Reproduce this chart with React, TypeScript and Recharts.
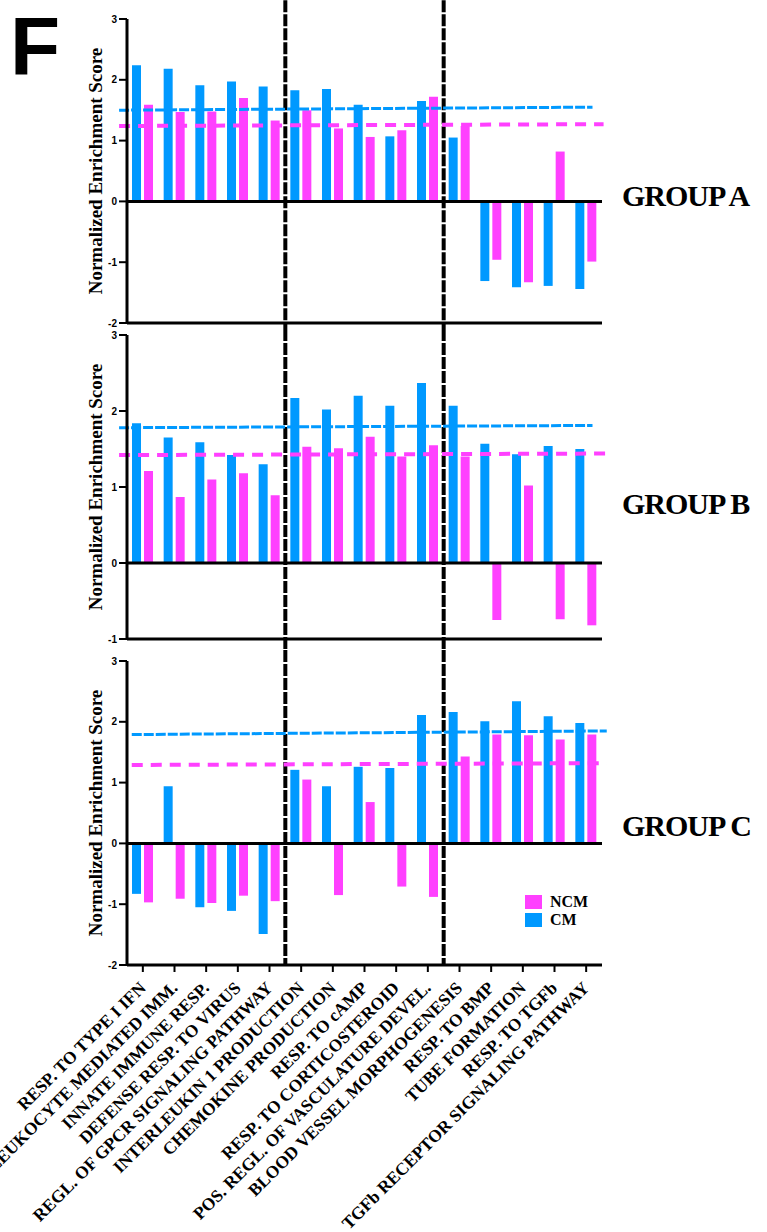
import { BarChart, Bar, XAxis, YAxis, ReferenceLine, Legend, Label } from 'recharts'

const BLUE = '#0099ff'
const PINK = '#ff40ff'
const SERIF = '"Liberation Serif", "Times New Roman", serif'
const SANS = '"Liberation Sans", Arial, sans-serif'

const categories = [
  'RESP. TO TYPE I IFN',
  'LEUKOCYTE MEDIATED IMM.',
  'INNATE IMMUNE RESP.',
  'DEFENSE RESP. TO VIRUS',
  'REGL. OF GPCR SIGNALING PATHWAY',
  'INTERLEUKIN 1 PRODUCTION',
  'CHEMOKINE PRODUCTION',
  'RESP. TO cAMP',
  'RESP. TO CORTICOSTEROID',
  'POS. REGL. OF VASCULATURE DEVEL.',
  'BLOOD VESSEL MORPHOGENESIS',
  'RESP. TO BMP',
  'TUBE FORMATION',
  'RESP. TO TGFb',
  'TGFb RECEPTOR SIGNALING PATHWAY',
]

// group A
const cmA = [2.24, 2.18, 1.91, 1.97, 1.89, 1.83, 1.85, 1.59, 1.07, 1.65, 1.05, -1.31, -1.41, -1.39, -1.44]
const ncmA = [1.59, 1.47, 1.48, 1.7, 1.33, 1.5, 1.2, 1.06, 1.17, 1.72, 1.24, -0.96, -1.33, 0.82, -0.99]
// group B
const cmB = [1.84, 1.65, 1.59, 1.42, 1.3, 2.17, 2.02, 2.2, 2.07, 2.37, 2.07, 1.57, 1.43, 1.54, 1.5]
const ncmB = [1.21, 0.87, 1.1, 1.18, 0.89, 1.53, 1.51, 1.66, 1.4, 1.55, 1.4, -0.75, 1.02, -0.74, -0.82]
// group C
const cmC = [-0.83, 0.94, -1.05, -1.11, -1.49, 1.21, 0.94, 1.26, 1.24, 2.11, 2.16, 2.01, 2.34, 2.09, 1.98]
const ncmC = [-0.97, -0.91, -0.98, -0.86, -0.95, 1.05, -0.85, 0.68, -0.71, -0.88, 1.43, 1.79, 1.78, 1.71, 1.79]

// dashed threshold lines, [left, right] value
const cmLineA = [1.5, 1.55]
const ncmLineA = [1.24, 1.27]
const cmLineB = [1.78, 1.81]
const ncmLineB = [1.42, 1.44]
const cmLineC = [1.79, 1.85]
const ncmLineC = [1.29, 1.32]

const ticksA = [-2, -1, 0, 1, 2, 3]
const ticksB = [-1, 0, 1, 2, 3]
const ticksC = [-2, -1, 0, 1, 2, 3]

// vertical separators sit between these slots
const groupBreaks = [5, 10]

const legendItems = [
  { name: 'NCM', color: PINK },
  { name: 'CM', color: BLUE },
]

// slot = centre of each category on a 0..15 numeric scale
const rowsOf = (cm: number[], ncm: number[]) =>
  categories.map((name, i) => ({ name, slot: i + 0.5, CM: cm[i], NCM: ncm[i] }))

const W = 767
const PLOT_LEFT = 127
const PLOT_RIGHT = 602
const Y_W = 40

function CategoryTick({ x, y, payload }: any) {
  return (
    <g transform={`translate(${x + 4},${y + 15})`}>
      <text
        transform="rotate(-45)"
        textAnchor="end"
        fontFamily={SERIF}
        fontWeight="bold"
        fontSize={17.5}
        fill="#000"
      >
        {payload.value}
      </text>
    </g>
  )
}

function LegendBox() {
  return (
    <div>
      {legendItems.map((it) => (
        <div key={it.name} style={{ display: 'flex', alignItems: 'center', height: 18 }}>
          <span style={{ width: 17, height: 14, background: it.color, marginRight: 8 }} />
          <span style={{ fontFamily: SERIF, fontWeight: 'bold', fontSize: 16, color: '#000' }}>{it.name}</span>
        </div>
      ))}
    </div>
  )
}

type PanelProps = {
  cm: number[]
  ncm: number[]
  domain: [number, number]
  ticks: number[]
  top: number
  height: number
  marginTop: number
  marginBottom: number
  axisHeight: number
  cmLine: number[]
  ncmLine: number[]
  cmSpan: number[]
  ncmSpan: number[]
  vSpan: number[]
  labels?: boolean
  legend?: boolean
}

function Panel(p: PanelProps) {
  return (
    <div style={{ position: 'absolute', left: 0, top: p.top }}>
      <BarChart
        width={W}
        height={p.height}
        data={rowsOf(p.cm, p.ncm)}
        margin={{ top: p.marginTop, right: W - PLOT_RIGHT, bottom: p.marginBottom, left: PLOT_LEFT - Y_W }}
        barSize={9}
        barGap={3}
      >
        <XAxis
          dataKey="name"
          interval={0}
          height={p.axisHeight}
          axisLine={{ stroke: '#000', strokeWidth: 3 }}
          tickLine={{ stroke: '#000', strokeWidth: 2 }}
          tickSize={7}
          tick={p.labels ? <CategoryTick /> : false}
        />
        <XAxis xAxisId="n" dataKey="slot" type="number" domain={[0, 15]} hide allowDataOverflow />
        <YAxis
          width={Y_W}
          domain={p.domain}
          ticks={p.ticks}
          interval={0}
          allowDataOverflow
          axisLine={{ stroke: '#000', strokeWidth: 3 }}
          tickLine={{ stroke: '#000', strokeWidth: 2 }}
          tickSize={8}
          tickMargin={2}
          tick={{ fontFamily: SANS, fontWeight: 'bold', fontSize: 10, fill: '#000' }}
        >
          <Label
            value="Normalized Enrichment Score"
            angle={-90}
            position="center"
            dx={-12}
            style={{ fontFamily: SERIF, fontWeight: 'bold', fontSize: 19, fill: '#000' }}
          />
        </YAxis>
        <Bar dataKey="CM" fill={BLUE} isAnimationActive={false} />
        <Bar dataKey="NCM" fill={PINK} isAnimationActive={false} />
        <ReferenceLine y={0} stroke="#000" strokeWidth={3} />
        {groupBreaks.map((b) => (
          <ReferenceLine
            key={b}
            xAxisId="n"
            segment={[{ x: b, y: p.vSpan[0] }, { x: b, y: p.vSpan[1] }]}
            stroke="#000"
            strokeWidth={4}
            strokeDasharray="12 2"
            ifOverflow="visible"
          />
        ))}
        <ReferenceLine
          xAxisId="n"
          segment={[{ x: p.cmSpan[0], y: p.cmLine[0] }, { x: p.cmSpan[1], y: p.cmLine[1] }]}
          stroke={BLUE}
          strokeWidth={3}
          strokeDasharray="10 2"
          ifOverflow="visible"
        />
        <ReferenceLine
          xAxisId="n"
          segment={[{ x: p.ncmSpan[0], y: p.ncmLine[0] }, { x: p.ncmSpan[1], y: p.ncmLine[1] }]}
          stroke={PINK}
          strokeWidth={4}
          strokeDasharray="11 8"
          ifOverflow="visible"
        />
        {p.legend && (
          <Legend
            layout="vertical"
            align="center"
            verticalAlign="middle"
            wrapperStyle={{ left: 525, top: 232, width: 'auto', height: 'auto' }}
            content={() => <LegendBox />}
          />
        )}
      </BarChart>
    </div>
  )
}

const groupLabel = (text: string, top: number) => (
  <div
    style={{
      position: 'absolute',
      left: 622,
      top,
      fontFamily: SERIF,
      fontWeight: 'bold',
      fontSize: 30,
      lineHeight: '30px',
      letterSpacing: -1,
      color: '#000',
      whiteSpace: 'nowrap',
    }}
  >
    {text}
  </div>
)

export default function App() {
  return (
    <div style={{ position: 'absolute', left: 0, top: 0, width: W, height: 1232, background: '#fff', overflow: 'hidden' }}>
      <style>{`.recharts-surface{overflow:visible}`}</style>
      <svg width={90} height={95} style={{ position: 'absolute', left: 0, top: 0 }}>
        <text x={10} y={75} fontFamily={SANS} fontWeight="bold" fontSize={82} fill="#000">
          F
        </text>
      </svg>
      <Panel
        cm={cmA}
        ncm={ncmA}
        domain={[-2, 3]}
        ticks={ticksA}
        top={0}
        height={335}
        marginTop={19}
        marginBottom={0}
        axisHeight={12}
        cmLine={cmLineA}
        ncmLine={ncmLineA}
        cmSpan={[-0.25, 14.7]}
        ncmSpan={[-0.25, 15.05]}
        vSpan={[3.31, -2.1]}
      />
      <Panel
        cm={cmB}
        ncm={ncmB}
        domain={[-1, 3]}
        ticks={ticksB}
        top={335}
        height={326}
        marginTop={0}
        marginBottom={10}
        axisHeight={12}
        cmLine={cmLineB}
        ncmLine={ncmLineB}
        cmSpan={[-0.25, 14.7]}
        ncmSpan={[-0.25, 15.1]}
        vSpan={[3.08, -1.14]}
      />
      <Panel
        cm={cmC}
        ncm={ncmC}
        domain={[-2, 3]}
        ticks={ticksC}
        top={661}
        height={571}
        marginTop={0}
        marginBottom={0}
        axisHeight={267}
        cmLine={cmLineC}
        ncmLine={ncmLineC}
        cmSpan={[0.15, 15.15]}
        ncmSpan={[0.15, 15.15]}
        vSpan={[3.18, -2]}
        labels
        legend
      />
      {groupLabel('GROUP A', 181)}
      {groupLabel('GROUP B', 489)}
      {groupLabel('GROUP C', 811)}
    </div>
  )
}
